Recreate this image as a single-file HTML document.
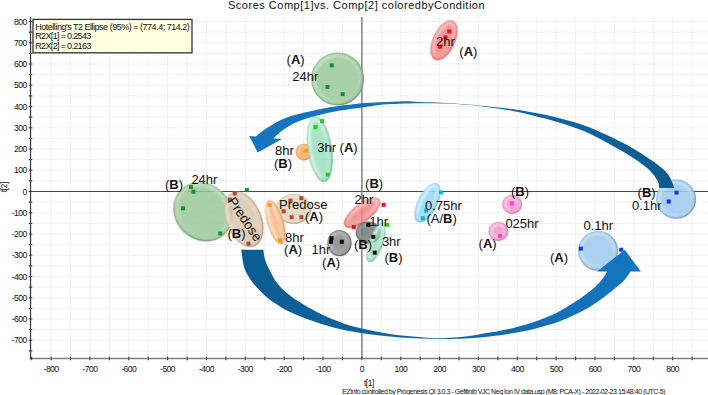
<!DOCTYPE html><html><head><meta charset="utf-8"><title>Scores</title><style>html,body{margin:0;padding:0;background:#fff}svg{display:block}text{font-family:"Liberation Sans",Arial,sans-serif;fill:#111}</style></head><body>
<svg width="708" height="395" viewBox="0 0 708 395">
<defs>
<radialGradient id="g_green" cx="0.5" cy="0.5" r="0.5"><stop offset="0" stop-color="rgb(154,200,154)" stop-opacity="0.86"/><stop offset="0.85" stop-color="rgb(154,200,154)" stop-opacity="0.86"/><stop offset="1" stop-color="rgb(136,182,136)" stop-opacity="0.86"/></radialGradient>
<linearGradient id="h_green" x1="0.1" y1="0.1" x2="0.9" y2="0.9"><stop offset="0" stop-color="rgb(206,234,206)" stop-opacity="1"/><stop offset="0.55" stop-color="rgb(206,234,206)" stop-opacity="0.7"/><stop offset="1" stop-color="rgb(206,234,206)" stop-opacity="0.1"/></linearGradient>
<linearGradient id="s_green" x1="0.15" y1="0.15" x2="0.85" y2="0.85"><stop offset="0" stop-color="rgb(100,148,100)" stop-opacity="0.05"/><stop offset="0.5" stop-color="rgb(100,148,100)" stop-opacity="0.28"/><stop offset="1" stop-color="rgb(100,148,100)" stop-opacity="0.75"/></linearGradient>
<radialGradient id="g_mint" cx="0.5" cy="0.5" r="0.5"><stop offset="0" stop-color="rgb(142,218,180)" stop-opacity="0.74"/><stop offset="0.85" stop-color="rgb(142,218,180)" stop-opacity="0.74"/><stop offset="1" stop-color="rgb(124,205,165)" stop-opacity="0.74"/></radialGradient>
<linearGradient id="h_mint" x1="0.1" y1="0.1" x2="0.9" y2="0.9"><stop offset="0" stop-color="rgb(238,253,245)" stop-opacity="1"/><stop offset="0.55" stop-color="rgb(238,253,245)" stop-opacity="0.7"/><stop offset="1" stop-color="rgb(238,253,245)" stop-opacity="0.1"/></linearGradient>
<linearGradient id="s_mint" x1="0.15" y1="0.15" x2="0.85" y2="0.85"><stop offset="0" stop-color="rgb(90,180,135)" stop-opacity="0.05"/><stop offset="0.5" stop-color="rgb(90,180,135)" stop-opacity="0.28"/><stop offset="1" stop-color="rgb(90,180,135)" stop-opacity="0.75"/></linearGradient>
<radialGradient id="g_orange" cx="0.5" cy="0.5" r="0.5"><stop offset="0" stop-color="rgb(246,184,130)" stop-opacity="0.85"/><stop offset="0.85" stop-color="rgb(246,184,130)" stop-opacity="0.85"/><stop offset="1" stop-color="rgb(239,167,110)" stop-opacity="0.85"/></radialGradient>
<linearGradient id="h_orange" x1="0.1" y1="0.1" x2="0.9" y2="0.9"><stop offset="0" stop-color="rgb(255,240,225)" stop-opacity="1"/><stop offset="0.55" stop-color="rgb(255,240,225)" stop-opacity="0.7"/><stop offset="1" stop-color="rgb(255,240,225)" stop-opacity="0.1"/></linearGradient>
<linearGradient id="s_orange" x1="0.15" y1="0.15" x2="0.85" y2="0.85"><stop offset="0" stop-color="rgb(225,135,70)" stop-opacity="0.05"/><stop offset="0.5" stop-color="rgb(225,135,70)" stop-opacity="0.28"/><stop offset="1" stop-color="rgb(225,135,70)" stop-opacity="0.75"/></linearGradient>
<radialGradient id="g_orange2" cx="0.5" cy="0.5" r="0.5"><stop offset="0" stop-color="rgb(242,168,105)" stop-opacity="0.88"/><stop offset="0.85" stop-color="rgb(242,168,105)" stop-opacity="0.88"/><stop offset="1" stop-color="rgb(236,157,93)" stop-opacity="0.88"/></radialGradient>
<linearGradient id="h_orange2" x1="0.1" y1="0.1" x2="0.9" y2="0.9"><stop offset="0" stop-color="rgb(250,205,165)" stop-opacity="1"/><stop offset="0.55" stop-color="rgb(250,205,165)" stop-opacity="0.7"/><stop offset="1" stop-color="rgb(250,205,165)" stop-opacity="0.1"/></linearGradient>
<linearGradient id="s_orange2" x1="0.15" y1="0.15" x2="0.85" y2="0.85"><stop offset="0" stop-color="rgb(225,135,70)" stop-opacity="0.05"/><stop offset="0.5" stop-color="rgb(225,135,70)" stop-opacity="0.28"/><stop offset="1" stop-color="rgb(225,135,70)" stop-opacity="0.75"/></linearGradient>
<radialGradient id="g_red" cx="0.5" cy="0.5" r="0.5"><stop offset="0" stop-color="rgb(238,128,128)" stop-opacity="0.82"/><stop offset="0.85" stop-color="rgb(238,128,128)" stop-opacity="0.82"/><stop offset="1" stop-color="rgb(230,115,115)" stop-opacity="0.82"/></radialGradient>
<linearGradient id="h_red" x1="0.1" y1="0.1" x2="0.9" y2="0.9"><stop offset="0" stop-color="rgb(253,215,215)" stop-opacity="1"/><stop offset="0.55" stop-color="rgb(253,215,215)" stop-opacity="0.7"/><stop offset="1" stop-color="rgb(253,215,215)" stop-opacity="0.1"/></linearGradient>
<linearGradient id="s_red" x1="0.15" y1="0.15" x2="0.85" y2="0.85"><stop offset="0" stop-color="rgb(215,90,90)" stop-opacity="0.05"/><stop offset="0.5" stop-color="rgb(215,90,90)" stop-opacity="0.28"/><stop offset="1" stop-color="rgb(215,90,90)" stop-opacity="0.75"/></linearGradient>
<radialGradient id="g_tan" cx="0.5" cy="0.5" r="0.5"><stop offset="0" stop-color="rgb(218,198,172)" stop-opacity="0.85"/><stop offset="0.85" stop-color="rgb(218,198,172)" stop-opacity="0.85"/><stop offset="1" stop-color="rgb(200,178,150)" stop-opacity="0.85"/></radialGradient>
<linearGradient id="h_tan" x1="0.1" y1="0.1" x2="0.9" y2="0.9"><stop offset="0" stop-color="rgb(240,230,216)" stop-opacity="1"/><stop offset="0.55" stop-color="rgb(240,230,216)" stop-opacity="0.7"/><stop offset="1" stop-color="rgb(240,230,216)" stop-opacity="0.1"/></linearGradient>
<linearGradient id="s_tan" x1="0.15" y1="0.15" x2="0.85" y2="0.85"><stop offset="0" stop-color="rgb(165,138,108)" stop-opacity="0.05"/><stop offset="0.5" stop-color="rgb(165,138,108)" stop-opacity="0.28"/><stop offset="1" stop-color="rgb(165,138,108)" stop-opacity="0.75"/></linearGradient>
<radialGradient id="g_tan2" cx="0.5" cy="0.5" r="0.5"><stop offset="0" stop-color="rgb(222,204,180)" stop-opacity="0.72"/><stop offset="0.85" stop-color="rgb(222,204,180)" stop-opacity="0.72"/><stop offset="1" stop-color="rgb(208,186,160)" stop-opacity="0.72"/></radialGradient>
<linearGradient id="h_tan2" x1="0.1" y1="0.1" x2="0.9" y2="0.9"><stop offset="0" stop-color="rgb(240,230,216)" stop-opacity="1"/><stop offset="0.55" stop-color="rgb(240,230,216)" stop-opacity="0.7"/><stop offset="1" stop-color="rgb(240,230,216)" stop-opacity="0.1"/></linearGradient>
<linearGradient id="s_tan2" x1="0.15" y1="0.15" x2="0.85" y2="0.85"><stop offset="0" stop-color="rgb(180,150,120)" stop-opacity="0.05"/><stop offset="0.5" stop-color="rgb(180,150,120)" stop-opacity="0.28"/><stop offset="1" stop-color="rgb(180,150,120)" stop-opacity="0.75"/></linearGradient>
<radialGradient id="g_grey" cx="0.5" cy="0.5" r="0.5"><stop offset="0" stop-color="rgb(140,140,140)" stop-opacity="0.88"/><stop offset="0.85" stop-color="rgb(140,140,140)" stop-opacity="0.88"/><stop offset="1" stop-color="rgb(121,121,121)" stop-opacity="0.88"/></radialGradient>
<linearGradient id="h_grey" x1="0.1" y1="0.1" x2="0.9" y2="0.9"><stop offset="0" stop-color="rgb(200,200,200)" stop-opacity="1"/><stop offset="0.55" stop-color="rgb(200,200,200)" stop-opacity="0.7"/><stop offset="1" stop-color="rgb(200,200,200)" stop-opacity="0.1"/></linearGradient>
<linearGradient id="s_grey" x1="0.15" y1="0.15" x2="0.85" y2="0.85"><stop offset="0" stop-color="rgb(85,85,85)" stop-opacity="0.05"/><stop offset="0.5" stop-color="rgb(85,85,85)" stop-opacity="0.28"/><stop offset="1" stop-color="rgb(85,85,85)" stop-opacity="0.75"/></linearGradient>
<radialGradient id="g_dark" cx="0.5" cy="0.5" r="0.5"><stop offset="0" stop-color="rgb(100,108,105)" stop-opacity="0.78"/><stop offset="0.85" stop-color="rgb(100,108,105)" stop-opacity="0.78"/><stop offset="1" stop-color="rgb(86,93,90)" stop-opacity="0.78"/></radialGradient>
<linearGradient id="h_dark" x1="0.1" y1="0.1" x2="0.9" y2="0.9"><stop offset="0" stop-color="rgb(160,166,163)" stop-opacity="1"/><stop offset="0.55" stop-color="rgb(160,166,163)" stop-opacity="0.7"/><stop offset="1" stop-color="rgb(160,166,163)" stop-opacity="0.1"/></linearGradient>
<linearGradient id="s_dark" x1="0.15" y1="0.15" x2="0.85" y2="0.85"><stop offset="0" stop-color="rgb(60,64,62)" stop-opacity="0.05"/><stop offset="0.5" stop-color="rgb(60,64,62)" stop-opacity="0.28"/><stop offset="1" stop-color="rgb(60,64,62)" stop-opacity="0.75"/></linearGradient>
<radialGradient id="g_cyan" cx="0.5" cy="0.5" r="0.5"><stop offset="0" stop-color="rgb(150,216,242)" stop-opacity="0.88"/><stop offset="0.85" stop-color="rgb(150,216,242)" stop-opacity="0.88"/><stop offset="1" stop-color="rgb(131,204,234)" stop-opacity="0.88"/></radialGradient>
<linearGradient id="h_cyan" x1="0.1" y1="0.1" x2="0.9" y2="0.9"><stop offset="0" stop-color="rgb(235,250,255)" stop-opacity="1"/><stop offset="0.55" stop-color="rgb(235,250,255)" stop-opacity="0.7"/><stop offset="1" stop-color="rgb(235,250,255)" stop-opacity="0.1"/></linearGradient>
<linearGradient id="s_cyan" x1="0.15" y1="0.15" x2="0.85" y2="0.85"><stop offset="0" stop-color="rgb(95,180,220)" stop-opacity="0.05"/><stop offset="0.5" stop-color="rgb(95,180,220)" stop-opacity="0.28"/><stop offset="1" stop-color="rgb(95,180,220)" stop-opacity="0.75"/></linearGradient>
<radialGradient id="g_pink" cx="0.5" cy="0.5" r="0.5"><stop offset="0" stop-color="rgb(240,150,200)" stop-opacity="0.88"/><stop offset="0.85" stop-color="rgb(240,150,200)" stop-opacity="0.88"/><stop offset="1" stop-color="rgb(230,138,190)" stop-opacity="0.88"/></radialGradient>
<linearGradient id="h_pink" x1="0.1" y1="0.1" x2="0.9" y2="0.9"><stop offset="0" stop-color="rgb(253,215,236)" stop-opacity="1"/><stop offset="0.55" stop-color="rgb(253,215,236)" stop-opacity="0.7"/><stop offset="1" stop-color="rgb(253,215,236)" stop-opacity="0.1"/></linearGradient>
<linearGradient id="s_pink" x1="0.15" y1="0.15" x2="0.85" y2="0.85"><stop offset="0" stop-color="rgb(212,115,170)" stop-opacity="0.05"/><stop offset="0.5" stop-color="rgb(212,115,170)" stop-opacity="0.28"/><stop offset="1" stop-color="rgb(212,115,170)" stop-opacity="0.75"/></linearGradient>
<radialGradient id="g_blue" cx="0.5" cy="0.5" r="0.5"><stop offset="0" stop-color="rgb(158,202,236)" stop-opacity="0.88"/><stop offset="0.85" stop-color="rgb(158,202,236)" stop-opacity="0.88"/><stop offset="1" stop-color="rgb(138,183,220)" stop-opacity="0.88"/></radialGradient>
<linearGradient id="h_blue" x1="0.1" y1="0.1" x2="0.9" y2="0.9"><stop offset="0" stop-color="rgb(210,232,248)" stop-opacity="1"/><stop offset="0.55" stop-color="rgb(210,232,248)" stop-opacity="0.7"/><stop offset="1" stop-color="rgb(210,232,248)" stop-opacity="0.1"/></linearGradient>
<linearGradient id="s_blue" x1="0.15" y1="0.15" x2="0.85" y2="0.85"><stop offset="0" stop-color="rgb(100,145,188)" stop-opacity="0.05"/><stop offset="0.5" stop-color="rgb(100,145,188)" stop-opacity="0.28"/><stop offset="1" stop-color="rgb(100,145,188)" stop-opacity="0.75"/></linearGradient>
<linearGradient id="ga1" gradientUnits="userSpaceOnUse" x1="250" y1="0" x2="675" y2="0"><stop offset="0" stop-color="#1575bf"/><stop offset="0.45" stop-color="#1470b4"/><stop offset="1" stop-color="#0c5a8e"/></linearGradient>
<linearGradient id="ga2" gradientUnits="userSpaceOnUse" x1="241" y1="0" x2="641" y2="0"><stop offset="0" stop-color="#0c5c92"/><stop offset="0.5" stop-color="#0f68a8"/><stop offset="1" stop-color="#1476c0"/></linearGradient>
<filter id="soft" x="-10%" y="-10%" width="120%" height="120%"><feGaussianBlur stdDeviation="0.75"/></filter>
<filter id="soft2" x="-20%" y="-20%" width="140%" height="140%"><feGaussianBlur stdDeviation="0.9"/></filter>
</defs>
<rect width="708" height="395" fill="#fff"/>
<path d="M31.7 17.0V358.5M51.1 17.0V358.5M70.5 17.0V358.5M89.9 17.0V358.5M109.4 17.0V358.5M128.8 17.0V358.5M148.2 17.0V358.5M167.6 17.0V358.5M187.1 17.0V358.5M206.5 17.0V358.5M225.9 17.0V358.5M245.3 17.0V358.5M264.8 17.0V358.5M284.2 17.0V358.5M303.6 17.0V358.5M323.0 17.0V358.5M342.5 17.0V358.5M361.9 17.0V358.5M381.3 17.0V358.5M400.8 17.0V358.5M420.2 17.0V358.5M439.6 17.0V358.5M459.0 17.0V358.5M478.4 17.0V358.5M497.9 17.0V358.5M517.3 17.0V358.5M536.7 17.0V358.5M556.1 17.0V358.5M575.6 17.0V358.5M595.0 17.0V358.5M614.4 17.0V358.5M633.8 17.0V358.5M653.3 17.0V358.5M672.7 17.0V358.5M692.1 17.0V358.5M30.5 350.9H708.0M30.5 340.2H708.0M30.5 329.6H708.0M30.5 319.0H708.0M30.5 308.4H708.0M30.5 297.8H708.0M30.5 287.1H708.0M30.5 276.5H708.0M30.5 265.9H708.0M30.5 255.2H708.0M30.5 244.6H708.0M30.5 234.0H708.0M30.5 223.4H708.0M30.5 212.8H708.0M30.5 202.1H708.0M30.5 191.5H708.0M30.5 180.9H708.0M30.5 170.2H708.0M30.5 159.6H708.0M30.5 149.0H708.0M30.5 138.4H708.0M30.5 127.8H708.0M30.5 117.1H708.0M30.5 106.5H708.0M30.5 95.9H708.0M30.5 85.2H708.0M30.5 74.6H708.0M30.5 64.0H708.0M30.5 53.4H708.0M30.5 42.8H708.0M30.5 32.1H708.0M30.5 21.5H708.0" stroke="#f0f0f0" stroke-width="1" fill="none"/>
<path d="M30.5 191.5H708" stroke="#4a4a4a" stroke-width="1" fill="none"/>
<path d="M361.9 17.0V358.5" stroke="#7a7a7a" stroke-width="1.4" fill="none"/>
<g filter="url(#soft)"><ellipse cx="337.5" cy="78.9" rx="26.3" ry="26.3" fill="url(#g_green)"/><ellipse cx="337.1" cy="78.5" rx="22.9" ry="22.9" fill="none" stroke="url(#h_green)" stroke-width="2.2" filter="url(#soft2)"/><ellipse cx="337.5" cy="78.9" rx="26.0" ry="26.0" fill="none" stroke="url(#s_green)" stroke-width="1.3"/></g>
<g filter="url(#soft)"><ellipse cx="303.8" cy="152.0" rx="8.3" ry="8.3" fill="url(#g_orange2)"/><ellipse cx="303.4" cy="151.6" rx="4.9" ry="4.9" fill="none" stroke="url(#h_orange2)" stroke-width="2.2" filter="url(#soft2)"/><ellipse cx="303.8" cy="152.0" rx="8.0" ry="8.0" fill="none" stroke="url(#s_orange2)" stroke-width="1.3"/></g>
<g filter="url(#soft)" transform="rotate(-8.5 319.6 148.9)"><ellipse cx="319.6" cy="148.9" rx="12.0" ry="33.0" fill="url(#g_mint)"/><ellipse cx="319.2" cy="148.5" rx="8.6" ry="29.6" fill="none" stroke="url(#h_mint)" stroke-width="2.2" filter="url(#soft2)"/><ellipse cx="319.6" cy="148.9" rx="11.7" ry="32.7" fill="none" stroke="url(#s_mint)" stroke-width="1.3"/></g>
<g filter="url(#soft)" transform="rotate(25 444.0 40.0)"><ellipse cx="444.0" cy="40.0" rx="11.0" ry="21.5" fill="url(#g_red)"/><ellipse cx="443.6" cy="39.6" rx="7.6" ry="18.1" fill="none" stroke="url(#h_red)" stroke-width="2.2" filter="url(#soft2)"/><ellipse cx="444.0" cy="40.0" rx="10.7" ry="21.2" fill="none" stroke="url(#s_red)" stroke-width="1.3"/></g>
<g filter="url(#soft)" transform="rotate(45 202.9 211.6)"><ellipse cx="202.9" cy="211.6" rx="31.3" ry="27.8" fill="url(#g_green)"/><ellipse cx="202.5" cy="211.2" rx="27.9" ry="24.4" fill="none" stroke="url(#h_green)" stroke-width="2.2" filter="url(#soft2)"/><ellipse cx="202.9" cy="211.6" rx="31.0" ry="27.5" fill="none" stroke="url(#s_green)" stroke-width="1.3"/></g>
<g filter="url(#soft)" transform="rotate(-22 243.6 219.2)"><ellipse cx="243.6" cy="219.2" rx="17.6" ry="29.0" fill="url(#g_tan)"/><ellipse cx="243.2" cy="218.8" rx="14.2" ry="25.6" fill="none" stroke="url(#h_tan)" stroke-width="2.2" filter="url(#soft2)"/><ellipse cx="243.6" cy="219.2" rx="17.3" ry="28.7" fill="none" stroke="url(#s_tan)" stroke-width="1.3"/></g>
<g filter="url(#soft)"><ellipse cx="293.5" cy="208.8" rx="17.5" ry="14.8" fill="url(#g_tan2)"/><ellipse cx="293.1" cy="208.4" rx="14.1" ry="11.4" fill="none" stroke="url(#h_tan2)" stroke-width="2.2" filter="url(#soft2)"/><ellipse cx="293.5" cy="208.8" rx="17.2" ry="14.5" fill="none" stroke="url(#s_tan2)" stroke-width="1.3"/></g>
<g filter="url(#soft)" transform="rotate(-16 275.2 222.0)"><ellipse cx="275.2" cy="222.0" rx="8.0" ry="22.8" fill="url(#g_orange)"/><ellipse cx="274.8" cy="221.6" rx="4.6" ry="19.4" fill="none" stroke="url(#h_orange)" stroke-width="2.2" filter="url(#soft2)"/><ellipse cx="275.2" cy="222.0" rx="7.7" ry="22.5" fill="none" stroke="url(#s_orange)" stroke-width="1.3"/></g>
<g filter="url(#soft)" transform="rotate(52.5 362.3 212.6)"><ellipse cx="362.3" cy="212.6" rx="9.0" ry="21.7" fill="url(#g_red)"/><ellipse cx="361.9" cy="212.2" rx="5.6" ry="18.3" fill="none" stroke="url(#h_red)" stroke-width="2.2" filter="url(#soft2)"/><ellipse cx="362.3" cy="212.6" rx="8.7" ry="21.4" fill="none" stroke="url(#s_red)" stroke-width="1.3"/></g>
<g filter="url(#soft)"><ellipse cx="368.2" cy="232.5" rx="12.5" ry="11.0" fill="url(#g_dark)"/><ellipse cx="367.8" cy="232.1" rx="9.1" ry="7.6" fill="none" stroke="url(#h_dark)" stroke-width="2.2" filter="url(#soft2)"/><ellipse cx="368.2" cy="232.5" rx="12.2" ry="10.7" fill="none" stroke="url(#s_dark)" stroke-width="1.3"/></g>
<g filter="url(#soft)" transform="rotate(20 376.0 242.5)"><ellipse cx="376.0" cy="242.5" rx="7.0" ry="20.5" fill="url(#g_mint)"/><ellipse cx="375.6" cy="242.1" rx="4.1" ry="17.6" fill="none" stroke="url(#h_mint)" stroke-width="2.2" filter="url(#soft2)"/><ellipse cx="376.0" cy="242.5" rx="6.7" ry="20.2" fill="none" stroke="url(#s_mint)" stroke-width="1.3"/></g>
<g filter="url(#soft)"><ellipse cx="339.3" cy="243.0" rx="12.0" ry="13.0" fill="url(#g_grey)"/><ellipse cx="338.9" cy="242.6" rx="8.6" ry="9.6" fill="none" stroke="url(#h_grey)" stroke-width="2.2" filter="url(#soft2)"/><ellipse cx="339.3" cy="243.0" rx="11.7" ry="12.7" fill="none" stroke="url(#s_grey)" stroke-width="1.3"/></g>
<g filter="url(#soft)" transform="rotate(27 427.5 202.5)"><ellipse cx="427.5" cy="202.5" rx="9.5" ry="21.5" fill="url(#g_cyan)"/><ellipse cx="427.1" cy="202.1" rx="6.1" ry="18.1" fill="none" stroke="url(#h_cyan)" stroke-width="2.2" filter="url(#soft2)"/><ellipse cx="427.5" cy="202.5" rx="9.2" ry="21.2" fill="none" stroke="url(#s_cyan)" stroke-width="1.3"/></g>
<g filter="url(#soft)"><ellipse cx="512.0" cy="204.3" rx="9.8" ry="9.5" fill="url(#g_pink)"/><ellipse cx="511.6" cy="203.9" rx="6.4" ry="6.1" fill="none" stroke="url(#h_pink)" stroke-width="2.2" filter="url(#soft2)"/><ellipse cx="512.0" cy="204.3" rx="9.5" ry="9.2" fill="none" stroke="url(#s_pink)" stroke-width="1.3"/></g>
<g filter="url(#soft)"><ellipse cx="498.3" cy="231.3" rx="9.8" ry="9.5" fill="url(#g_pink)"/><ellipse cx="497.9" cy="230.9" rx="6.4" ry="6.1" fill="none" stroke="url(#h_pink)" stroke-width="2.2" filter="url(#soft2)"/><ellipse cx="498.3" cy="231.3" rx="9.5" ry="9.2" fill="none" stroke="url(#s_pink)" stroke-width="1.3"/></g>
<g filter="url(#soft)"><ellipse cx="676.0" cy="199.0" rx="19.8" ry="19.6" fill="url(#g_blue)"/><ellipse cx="675.6" cy="198.6" rx="16.4" ry="16.2" fill="none" stroke="url(#h_blue)" stroke-width="2.2" filter="url(#soft2)"/><ellipse cx="676.0" cy="199.0" rx="19.5" ry="19.3" fill="none" stroke="url(#s_blue)" stroke-width="1.3"/></g>
<g filter="url(#soft)"><ellipse cx="598.0" cy="250.7" rx="19.8" ry="19.8" fill="url(#g_blue)"/><ellipse cx="597.6" cy="250.3" rx="16.4" ry="16.4" fill="none" stroke="url(#h_blue)" stroke-width="2.2" filter="url(#soft2)"/><ellipse cx="598.0" cy="250.7" rx="19.5" ry="19.5" fill="none" stroke="url(#s_blue)" stroke-width="1.3"/></g>
<rect x="329.8" y="63.3" width="4" height="4" fill="#1e8c32"/>
<rect x="325.5" y="85.0" width="4" height="4" fill="#1e8c32"/>
<rect x="340.7" y="92.1" width="4" height="4" fill="#1e8c32"/>
<rect x="189.0" y="185.1" width="4" height="4" fill="#1e8c32"/>
<rect x="191.5" y="189.7" width="4" height="4" fill="#1e8c32"/>
<rect x="181.1" y="206.3" width="4" height="4" fill="#1e8c32"/>
<rect x="218.2" y="231.4" width="4" height="4" fill="#1e8c32"/>
<rect x="244.9" y="188.1" width="4" height="4" fill="#1e8c32"/>
<rect x="320.1" y="119.1" width="4" height="4" fill="#22cc22"/>
<rect x="313.6" y="125.2" width="4" height="4" fill="#22cc22"/>
<rect x="325.8" y="172.6" width="4" height="4" fill="#22cc22"/>
<rect x="385.2" y="222.8" width="4" height="4" fill="#22cc22"/>
<rect x="303.9" y="148.7" width="4" height="4" fill="#ff9a10"/>
<rect x="267.5" y="202.8" width="4" height="4" fill="#ff9a10"/>
<rect x="278.0" y="238.1" width="4" height="4" fill="#ff9a10"/>
<rect x="447.2" y="29.4" width="4" height="4" fill="#ee1111"/>
<rect x="438.1" y="44.6" width="4" height="4" fill="#ee1111"/>
<rect x="443.5" y="35.4" width="4" height="4" fill="#ee1111"/>
<rect x="381.6" y="202.8" width="4" height="4" fill="#ee1111"/>
<rect x="351.8" y="225.0" width="4" height="4" fill="#ee1111"/>
<rect x="232.8" y="191.5" width="4" height="4" fill="#b8452e"/>
<rect x="246.5" y="241.6" width="4" height="4" fill="#b8452e"/>
<rect x="227.8" y="197.6" width="4" height="4" fill="#b8452e"/>
<rect x="299.4" y="196.2" width="4" height="4" fill="#b8452e"/>
<rect x="288.4" y="198.6" width="4" height="4" fill="#b8452e"/>
<rect x="281.6" y="209.3" width="4" height="4" fill="#b8452e"/>
<rect x="289.6" y="215.2" width="4" height="4" fill="#b8452e"/>
<rect x="299.4" y="215.2" width="4" height="4" fill="#b8452e"/>
<rect x="366.3" y="222.8" width="4" height="4" fill="#0a0a0a"/>
<rect x="371.3" y="234.8" width="4" height="4" fill="#0a0a0a"/>
<rect x="372.7" y="250.6" width="4" height="4" fill="#0a0a0a"/>
<rect x="329.5" y="236.2" width="4" height="4" fill="#0a0a0a"/>
<rect x="329.0" y="239.8" width="4" height="4" fill="#0a0a0a"/>
<rect x="339.8" y="239.8" width="4" height="4" fill="#0a0a0a"/>
<rect x="439.0" y="190.4" width="4" height="4" fill="#12b5d0"/>
<rect x="424.1" y="208.6" width="4" height="4" fill="#12b5d0"/>
<rect x="420.8" y="216.2" width="4" height="4" fill="#12b5d0"/>
<rect x="509.9" y="201.5" width="4" height="4" fill="#ff44cc"/>
<rect x="498.0" y="234.0" width="4" height="4" fill="#ff44cc"/>
<rect x="674.5" y="190.6" width="4" height="4" fill="#1133ee"/>
<rect x="666.7" y="199.5" width="4" height="4" fill="#1133ee"/>
<rect x="578.8" y="246.6" width="4" height="4" fill="#1133ee"/>
<rect x="619.2" y="247.7" width="4" height="4" fill="#1133ee"/>
<path d="M249.2 135.9L255.8 136.6C257.4 135.3 261.6 131.5 265.3 129.0C269.0 126.5 273.8 123.5 278.0 121.4C282.2 119.3 286.8 117.6 290.6 116.3C294.4 115.0 296.4 114.6 300.8 113.5C305.2 112.4 311.5 111.0 317.2 109.8C322.9 108.6 326.9 107.6 335.0 106.5C343.1 105.4 354.9 103.8 365.6 103.0C376.4 102.2 390.4 101.6 399.5 101.4C408.6 101.2 412.8 101.7 420.0 101.9C427.2 102.1 435.1 102.3 442.6 102.7C450.1 103.1 459.6 103.8 465.2 104.2C470.8 104.6 472.7 104.8 476.5 105.2C480.3 105.6 482.2 105.8 487.8 106.4C493.4 107.0 502.9 107.7 510.4 108.7C517.9 109.7 525.5 111.2 533.0 112.6C540.5 114.0 547.1 115.2 555.6 117.3C564.1 119.4 575.4 122.4 584.1 125.4C592.9 128.5 600.1 131.8 608.1 135.6C616.1 139.4 624.2 143.4 632.2 148.1C640.2 152.8 650.2 159.3 656.2 163.7C662.2 168.1 665.2 170.5 668.2 174.6C671.2 178.7 673.3 185.8 674.3 188.0L659.3 188.0C659.0 186.8 659.1 183.6 657.4 180.6C655.7 177.6 653.2 173.7 649.0 169.8C644.8 165.9 639.0 161.7 632.2 157.3C625.4 152.9 616.1 147.6 608.1 143.3C600.1 139.0 592.9 134.9 584.1 131.3C575.4 127.7 564.1 124.2 555.6 121.6C547.1 119.0 540.5 117.4 533.0 115.5C525.5 113.6 517.9 111.8 510.4 110.4C502.9 109.0 493.4 108.0 487.8 107.2C482.2 106.4 480.3 106.1 476.5 105.7C472.7 105.3 470.8 105.1 465.2 104.7C459.6 104.3 450.1 103.7 442.6 103.5C435.1 103.3 427.2 103.2 420.0 103.3C412.8 103.3 405.7 103.6 399.5 103.8C393.3 104.0 388.6 104.0 383.0 104.5C377.4 105.0 373.6 105.8 365.6 107.0C357.6 108.2 343.1 110.0 335.0 111.4C326.9 112.8 323.0 114.0 317.2 115.6C311.4 117.2 304.4 119.2 300.0 120.8C295.6 122.4 293.2 123.8 290.6 125.2C288.0 126.6 286.4 127.5 284.3 129.0C282.2 130.5 279.8 132.4 278.0 134.0C276.2 135.6 274.2 137.8 273.5 138.5L281.8 138.9L257.7 152.4Z" fill="url(#ga1)"/>
<path d="M241.3 249.7C242.0 253.3 242.3 264.3 245.7 271.4C249.0 278.5 255.3 286.2 261.4 292.3C267.5 298.4 274.5 303.4 282.3 307.9C290.1 312.4 299.7 316.1 308.4 319.4C317.1 322.7 325.8 325.5 334.5 327.8C343.2 330.1 352.0 331.6 360.7 333.0C369.4 334.4 378.1 335.3 386.8 336.2C395.5 337.1 403.3 337.7 412.9 338.2C422.5 338.7 435.6 338.9 444.3 339.0C453.0 339.1 459.2 338.8 465.2 338.5C471.1 338.2 474.2 338.1 480.0 337.5C485.8 336.9 493.9 336.0 500.0 335.2C506.1 334.4 511.2 333.7 516.9 332.6C522.5 331.6 528.2 330.3 533.9 328.9C539.5 327.5 546.4 325.5 550.8 324.2C555.1 322.9 555.9 322.8 560.0 321.2C564.1 319.6 570.1 316.9 575.2 314.5C580.3 312.1 585.4 309.6 590.4 306.5C595.4 303.4 600.5 299.8 605.5 296.0C610.5 292.2 617.3 286.5 620.7 283.5C624.1 280.5 624.4 280.0 626.0 278.0C627.6 276.0 629.7 272.6 630.4 271.5L640.9 271.5L624.7 249.8L597.1 271.5L607.1 271.5C606.5 272.5 604.8 275.6 603.4 277.5C602.0 279.4 601.2 280.8 599.0 283.0C596.8 285.2 594.4 287.9 590.4 291.0C586.4 294.1 580.3 298.5 575.2 301.8C570.1 305.1 564.1 308.7 560.0 311.0C555.9 313.3 555.1 313.7 550.8 315.5C546.4 317.3 539.5 320.1 533.9 322.0C528.2 323.9 522.5 325.5 516.9 327.0C511.2 328.5 506.1 329.6 500.0 330.8C493.9 332.0 485.8 333.2 480.0 334.2C474.2 335.2 471.1 335.9 465.2 336.6C459.2 337.3 450.2 338.0 444.3 338.2C438.4 338.4 436.2 338.4 430.0 338.0C423.8 337.6 414.5 336.9 407.1 336.1C399.8 335.3 393.5 334.5 385.9 333.2C378.3 331.9 368.7 330.0 361.6 328.4C354.6 326.8 350.1 325.7 343.6 323.4C337.1 321.1 329.5 318.2 322.4 314.8C315.3 311.4 307.0 306.6 301.2 303.0C295.4 299.4 291.5 296.8 287.5 293.5C283.5 290.2 279.9 286.8 277.0 283.0C274.1 279.2 271.8 274.4 269.8 270.5C267.8 266.6 266.2 263.3 265.1 259.8C264.0 256.3 263.6 251.4 263.3 249.7Z" fill="url(#ga2)"/>
<path d="M29.9 358.5H708" stroke="#808080" stroke-width="1.5" fill="none"/>
<path d="M30.5 17.0V359.2" stroke="#3a3a3a" stroke-width="1.2" fill="none"/>
<path d="M31.7 356.7v3.6M51.1 356.7v3.6M70.5 356.7v3.6M89.9 356.7v3.6M109.4 356.7v3.6M128.8 356.7v3.6M148.2 356.7v3.6M167.6 356.7v3.6M187.1 356.7v3.6M206.5 356.7v3.6M225.9 356.7v3.6M245.3 356.7v3.6M264.8 356.7v3.6M284.2 356.7v3.6M303.6 356.7v3.6M323.0 356.7v3.6M342.5 356.7v3.6M361.9 356.7v3.6M381.3 356.7v3.6M400.8 356.7v3.6M420.2 356.7v3.6M439.6 356.7v3.6M459.0 356.7v3.6M478.4 356.7v3.6M497.9 356.7v3.6M517.3 356.7v3.6M536.7 356.7v3.6M556.1 356.7v3.6M575.6 356.7v3.6M595.0 356.7v3.6M614.4 356.7v3.6M633.8 356.7v3.6M653.3 356.7v3.6M672.7 356.7v3.6M692.1 356.7v3.6M28.7 350.9h3.6M28.7 340.2h3.6M28.7 329.6h3.6M28.7 319.0h3.6M28.7 308.4h3.6M28.7 297.8h3.6M28.7 287.1h3.6M28.7 276.5h3.6M28.7 265.9h3.6M28.7 255.2h3.6M28.7 244.6h3.6M28.7 234.0h3.6M28.7 223.4h3.6M28.7 212.8h3.6M28.7 202.1h3.6M28.7 191.5h3.6M28.7 180.9h3.6M28.7 170.2h3.6M28.7 159.6h3.6M28.7 149.0h3.6M28.7 138.4h3.6M28.7 127.8h3.6M28.7 117.1h3.6M28.7 106.5h3.6M28.7 95.9h3.6M28.7 85.2h3.6M28.7 74.6h3.6M28.7 64.0h3.6M28.7 53.4h3.6M28.7 42.8h3.6M28.7 32.1h3.6M28.7 21.5h3.6" stroke="#333" stroke-width="1" fill="none"/>
<g font-size="8.6" letter-spacing="-0.55">
<text x="51.1" y="372.4" text-anchor="middle">-800</text>
<text x="89.9" y="372.4" text-anchor="middle">-700</text>
<text x="128.8" y="372.4" text-anchor="middle">-600</text>
<text x="167.6" y="372.4" text-anchor="middle">-500</text>
<text x="206.5" y="372.4" text-anchor="middle">-400</text>
<text x="245.3" y="372.4" text-anchor="middle">-300</text>
<text x="284.2" y="372.4" text-anchor="middle">-200</text>
<text x="323.0" y="372.4" text-anchor="middle">-100</text>
<text x="361.9" y="372.4" text-anchor="middle">0</text>
<text x="400.8" y="372.4" text-anchor="middle">100</text>
<text x="439.6" y="372.4" text-anchor="middle">200</text>
<text x="478.4" y="372.4" text-anchor="middle">300</text>
<text x="517.3" y="372.4" text-anchor="middle">400</text>
<text x="556.1" y="372.4" text-anchor="middle">500</text>
<text x="595.0" y="372.4" text-anchor="middle">600</text>
<text x="633.8" y="372.4" text-anchor="middle">700</text>
<text x="672.7" y="372.4" text-anchor="middle">800</text>
<text x="26.8" y="343.2" text-anchor="end">-700</text>
<text x="26.8" y="322.0" text-anchor="end">-600</text>
<text x="26.8" y="300.8" text-anchor="end">-500</text>
<text x="26.8" y="279.5" text-anchor="end">-400</text>
<text x="26.8" y="258.2" text-anchor="end">-300</text>
<text x="26.8" y="237.0" text-anchor="end">-200</text>
<text x="26.8" y="215.8" text-anchor="end">-100</text>
<text x="26.8" y="194.5" text-anchor="end">0</text>
<text x="26.8" y="173.2" text-anchor="end">100</text>
<text x="26.8" y="152.0" text-anchor="end">200</text>
<text x="26.8" y="130.8" text-anchor="end">300</text>
<text x="26.8" y="109.5" text-anchor="end">400</text>
<text x="26.8" y="88.2" text-anchor="end">500</text>
<text x="26.8" y="67.0" text-anchor="end">600</text>
<text x="26.8" y="45.8" text-anchor="end">700</text>
<text x="26.8" y="24.5" text-anchor="end">800</text>
</g>
<text x="368.9" y="386.4" font-size="8.6" text-anchor="middle" letter-spacing="-0.5">t[1]</text>
<text transform="translate(7.2 187.2) rotate(-90)" font-size="8.6" text-anchor="middle" letter-spacing="-0.5">t[2]</text>
<text x="342.2" y="393.8" font-size="7" textLength="323.4" lengthAdjust="spacing">EZInfo controlled by Progenesis QI 3.0.3 - Gefitinib VJC Neg Ion IV data.usp (M8: PCA-X) - 2022-02-23 15:48:40 (UTC-5)</text>
<text x="228" y="9.3" font-size="11" textLength="256.6" lengthAdjust="spacing" fill="#222">Scores Comp[1]vs. Comp[2] coloredbyCondition</text>
<rect x="33" y="19.4" width="159" height="33.4" fill="#ffffe1" stroke="#333" stroke-width="1.3"/>
<g font-size="9">
<text x="35.3" y="29.5" textLength="154.5" lengthAdjust="spacing">Hotelling's T2 Ellipse (95%) = (774.4; 714.2)</text>
<text x="35.3" y="39.3" textLength="56" lengthAdjust="spacing">R2X[1] = 0.2543</text>
<text x="35.3" y="49" textLength="56" lengthAdjust="spacing">R2X[2] = 0.2163</text>
</g>
<text x="286.6" y="63.9" font-size="13">(<tspan font-weight="bold">A</tspan>)</text>
<text x="292.2" y="80.6" font-size="13">24hr</text>
<text x="275.0" y="155.0" font-size="13">8hr</text>
<text x="274.0" y="167.6" font-size="13">(<tspan font-weight="bold">B</tspan>)</text>
<text x="317.2" y="151.6" font-size="13">3hr (<tspan font-weight="bold">A</tspan>)</text>
<text x="165.0" y="189.4" font-size="13">(<tspan font-weight="bold">B</tspan>)</text>
<text x="191.4" y="184.4" font-size="13">24hr</text>
<text x="436.0" y="46.1" font-size="13">2hr</text>
<text x="459.3" y="56.0" font-size="13">(<tspan font-weight="bold">A</tspan>)</text>
<text x="365.1" y="187.9" font-size="13">(<tspan font-weight="bold">B</tspan>)</text>
<text x="511.0" y="196.0" font-size="13">(<tspan font-weight="bold">B</tspan>)</text>
<text x="637.6" y="197.0" font-size="13">(<tspan font-weight="bold">B</tspan>)</text>
<text x="424.9" y="209.7" font-size="13">0.75hr</text>
<text x="426.4" y="223.4" font-size="13">(A/<tspan font-weight="bold">B</tspan>)</text>
<text x="505.4" y="227.5" font-size="13">025hr</text>
<text x="478.6" y="247.7" font-size="13">(<tspan font-weight="bold">A</tspan>)</text>
<text x="632.0" y="209.7" font-size="13">0.1hr</text>
<text x="583.4" y="230.0" font-size="13">0.1hr</text>
<text x="550.0" y="261.9" font-size="13">(<tspan font-weight="bold">A</tspan>)</text>
<text x="354.5" y="203.6" font-size="13">2hr</text>
<text x="369.2" y="225.9" font-size="13">1hr</text>
<text x="381.9" y="246.2" font-size="13">3hr</text>
<text x="354.0" y="248.7" font-size="13">(<tspan font-weight="bold">B</tspan>)</text>
<text x="384.4" y="261.9" font-size="13">(<tspan font-weight="bold">B</tspan>)</text>
<text x="279.0" y="208.7" font-size="13">Predose</text>
<text x="304.9" y="221.4" font-size="13">(<tspan font-weight="bold">A</tspan>)</text>
<text x="285.1" y="241.6" font-size="13">8hr</text>
<text x="284.1" y="254.3" font-size="13">(<tspan font-weight="bold">A</tspan>)</text>
<text x="311.5" y="253.8" font-size="13">1hr</text>
<text x="322.1" y="267.0" font-size="13">(<tspan font-weight="bold">A</tspan>)</text>
<text x="227.4" y="238.1" font-size="13">(<tspan font-weight="bold">B</tspan>)</text>
<text transform="translate(227.3 201) rotate(56)" font-size="13.4">Predose</text>
</svg></body></html>
